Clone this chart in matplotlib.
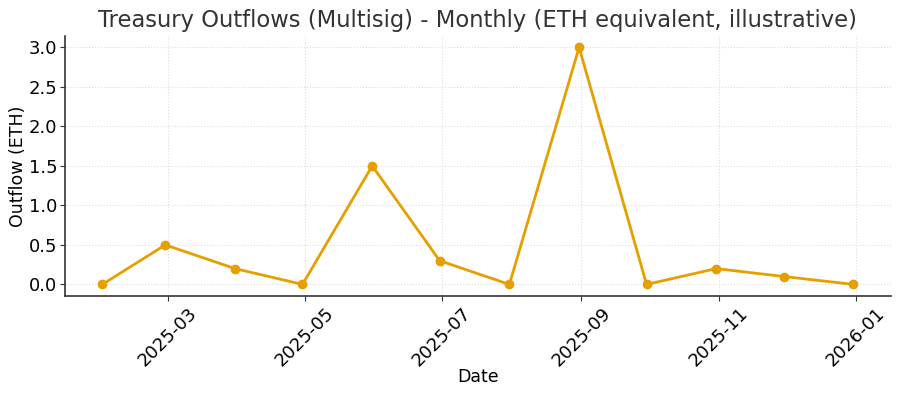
import pandas as pd
import matplotlib.pyplot as plt
import matplotlib.dates as mdates

# Monthly outflows (month-end dates)
dates = pd.date_range("2025-01-31", "2025-12-31", freq="ME")
outflow_eth = [0.0, 0.5, 0.2, 0.0, 1.5, 0.3, 0.0, 3.0, 0.0, 0.2, 0.1, 0.0]

plt.rcParams['font.family'] = ['DejaVu Sans']

fig, ax = plt.subplots(figsize=(9, 3.95), dpi=100)

ax.plot(dates, outflow_eth, color="#E69F00", linewidth=2, marker="o", markersize=6)

ax.set_title("Treasury Outflows (Multisig) - Monthly (ETH equivalent, illustrative)",
             fontsize=16.3, color="#333333")
ax.set_xlabel("Date", fontsize=12.5, labelpad=-1)
ax.set_ylabel("Outflow (ETH)", fontsize=12.5, labelpad=1)

ax.xaxis.set_major_locator(mdates.MonthLocator(bymonth=[1, 3, 5, 7, 9, 11]))
ax.xaxis.set_major_formatter(mdates.DateFormatter("%Y-%m"))
plt.setp(ax.get_xticklabels(), rotation=45, ha="center")
ax.tick_params(labelsize=13, color="#333333", direction="out", pad=2)

ax.grid(True, linestyle=":", color="#dddddd", linewidth=0.8)
for side in ["top", "right"]:
    ax.spines[side].set_visible(False)
for side in ["left", "bottom"]:
    ax.spines[side].set_color("#333333")
    ax.spines[side].set_linewidth(1.2)

fig.subplots_adjust(left=0.072, right=0.99, top=0.91, bottom=0.25)
fig.savefig("out.png", dpi=100)
